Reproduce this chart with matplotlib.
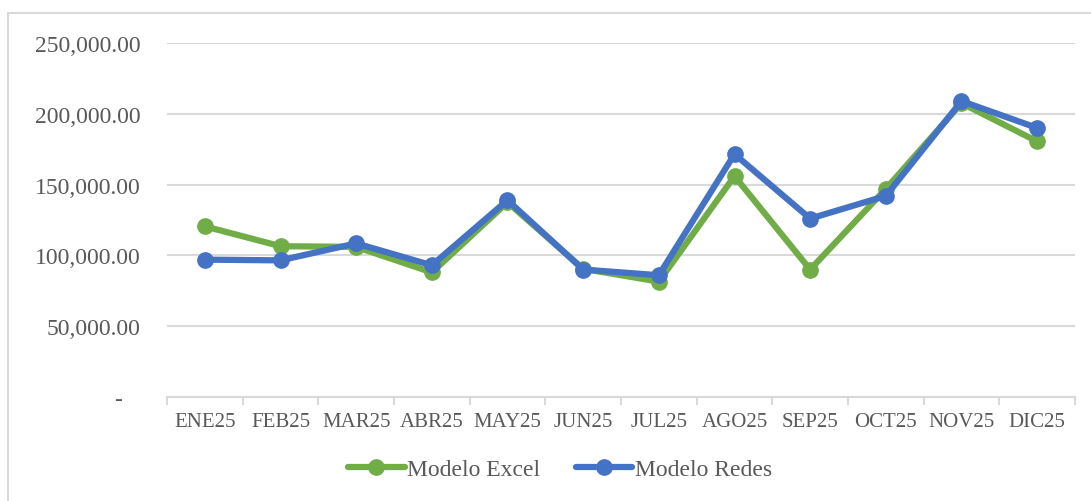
import matplotlib
matplotlib.use("Agg")
import matplotlib.pyplot as plt
from matplotlib.patches import Rectangle
from matplotlib.ticker import FuncFormatter, FixedLocator
import numpy as np

categories = ["ENE25", "FEB25", "MAR25", "ABR25", "MAY25", "JUN25",
              "JUL25", "AGO25", "SEP25", "OCT25", "NOV25", "DIC25"]
modelo_excel = [120500, 106500, 106000, 88000, 137500, 90500,
                81500, 156000, 90000, 147000, 207500, 180500]
modelo_redes = [97000, 96500, 108500, 93000, 139000, 90000,
                86000, 171500, 126000, 142000, 209000, 190000]

plt.rcParams['font.family'] = ['Liberation Serif', 'DejaVu Serif']

W, H = 1091, 502
fig = plt.figure(figsize=(W / 100, H / 100), dpi=100)
ax = fig.add_axes([167 / W, (H - 398) / H, (1075 - 167) / W, (398 - 44) / H])

# outer chart border
fig.add_artist(Rectangle((8 / W, -0.1), 1.2, (H - 14) / H + 0.1,
                         transform=fig.transFigure, fill=False,
                         edgecolor="#D9D9D9", linewidth=1.5, clip_on=False))

x = np.arange(len(categories))
green = "#70AD47"
blue = "#4472C4"
ax.plot(x, modelo_excel, color=green, linewidth=4.5, marker="o",
        markersize=11, label="Modelo Excel", solid_capstyle="round", zorder=3)
ax.plot(x, modelo_redes, color=blue, linewidth=4.5, marker="o",
        markersize=11, label="Modelo Redes", solid_capstyle="round", zorder=4)

ax.set_xlim(-0.5, len(categories) - 0.5)
ax.set_ylim(0, 250000)
ax.set_yticks([0, 50000, 100000, 150000, 200000, 250000])
ax.yaxis.set_major_formatter(FuncFormatter(
    lambda v, p: "-   " if v == 0 else f"{v:,.2f}"))
ax.grid(axis="y", color="#D9D9D9", linewidth=1.5)
ax.set_axisbelow(True)

ax.set_xticks(x)
ax.set_xticklabels(categories)
ax.xaxis.set_minor_locator(FixedLocator(np.arange(-0.5, len(categories), 1)))
ax.tick_params(axis="x", which="major", length=0, pad=11,
               labelsize=15, labelcolor="#595959")
ax.tick_params(axis="x", which="minor", length=6, width=1.5,
               color="#D9D9D9", direction="out")
ax.tick_params(axis="y", length=0, pad=19, labelsize=17, labelcolor="#595959")

for s in ["top", "right", "left"]:
    ax.spines[s].set_visible(False)
ax.spines["bottom"].set_color("#D9D9D9")
ax.spines["bottom"].set_linewidth(1.5)

leg = fig.legend(loc="center", bbox_to_anchor=(560 / W, (H - 470) / H),
                 ncol=2, frameon=False, fontsize=17, handlelength=2.4,
                 handletextpad=0.1, columnspacing=1.5)
for t in leg.get_texts():
    t.set_color("#595959")

fig.savefig("out.png", dpi=100)
